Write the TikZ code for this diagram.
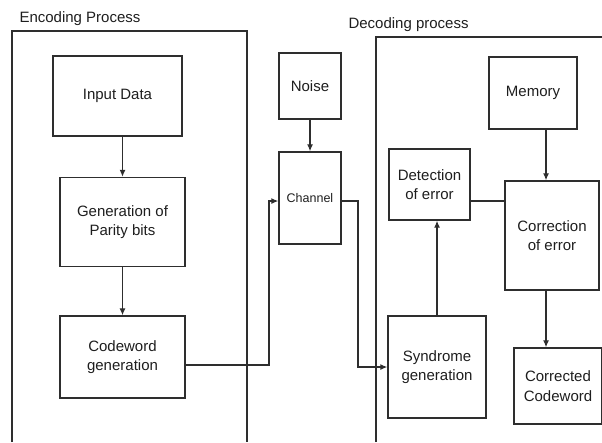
\documentclass[tikz,border=0pt]{standalone}
\usepackage{fontspec}
\setmainfont{Liberation Sans}
\usepackage{tikz}
\usetikzlibrary{calc,arrows.meta}

\definecolor{linegray}{HTML}{2E2E2E}
\definecolor{textgray}{HTML}{1E1E1E}

\tikzset{
    box/.style={draw=linegray, line width=1.4pt, align=center, inner sep=0pt,
        font=\fontsize{15}{19.5}\selectfont, text=textgray},
    arr/.style={-{Latex[length=7pt,width=6pt]}, draw=linegray, line width=1.2pt},
    link/.style={draw=linegray, line width=1.2pt},
    frame/.style={draw=linegray, line width=1.4pt}
}

\begin{document}
\begin{tikzpicture}[x=1pt,y=-1pt]
    \useasboundingbox (0,0) rectangle (602,442);

    % Frames
    \draw[frame] (12,442) -- (12,31) -- (247,31) -- (247,442);
    \node[anchor=west, text=textgray, font=\fontsize{15}{18}\selectfont] (enclabel) at (16,19) {Encoding Process};
    \draw[frame] (376,442) -- (376,37) -- (602,37);
    \node[anchor=west, text=textgray, font=\fontsize{15}{18}\selectfont] (declabel) at (345,25) {Decoding process};

    % Encoding side
    \node[box, minimum width=129pt, minimum height=80pt] (input) at (117.5,96) {Input Data};
    \node[box, minimum width=125pt, minimum height=89pt] (parity) at (122.5,222) {Generation of\\Parity bits};
    \node[box, minimum width=125pt, minimum height=82pt] (codeword) at (122.5,357) {Codeword\\generation};

    % Channel
    \node[box, minimum width=62pt, minimum height=66pt] (noise) at (310,86) {Noise};
    \node[box, minimum width=62pt, minimum height=92pt, font=\fontsize{12.5}{15}\selectfont] (channel) at (310,198) {Channel};

    % Decoding side
    \node[box, minimum width=88pt, minimum height=72pt] (memory) at (533,93) {Memory};
    \node[box, minimum width=81pt, minimum height=71pt] (detect) at (429.5,184.5) {Detection\\of error};
    \node[box, minimum width=94pt, minimum height=109pt] (correct) at (552,235.5) {Correction\\of error};
    \node[box, minimum width=98pt, minimum height=102pt] (syndrome) at (437,367) {Syndrome\\generation};
    \node[box, minimum width=88pt, minimum height=76pt] (corrected) at (558,386) {Corrected\\Codeword};

    % Connectors
    \coordinate (bendA) at (269,365);
    \coordinate (bendB) at (358,201);
    \draw[arr] (parity.north |- input.south) -- (parity.north);
    \draw[arr] (parity.south) -- (codeword.north);
    \draw[arr] (codeword.east |- bendA) -- (bendA) |- (channel.west |- bendB);
    \draw[arr] (noise.south) -- (channel.north);
    \draw[arr] (channel.east |- bendB) -- (bendB) |- (syndrome.west);
    \draw[arr] (syndrome.north) -- (syndrome.north |- detect.south);
    \draw[link] (detect.east |- bendB) -- (correct.west |- bendB);
    \draw[arr] ([xshift=-6pt]correct.north |- memory.south) -- ([xshift=-6pt]correct.north);
    \draw[arr] ([xshift=-6pt]correct.south) -- ([xshift=-6pt]correct.south |- corrected.north);
\end{tikzpicture}
\end{document}
